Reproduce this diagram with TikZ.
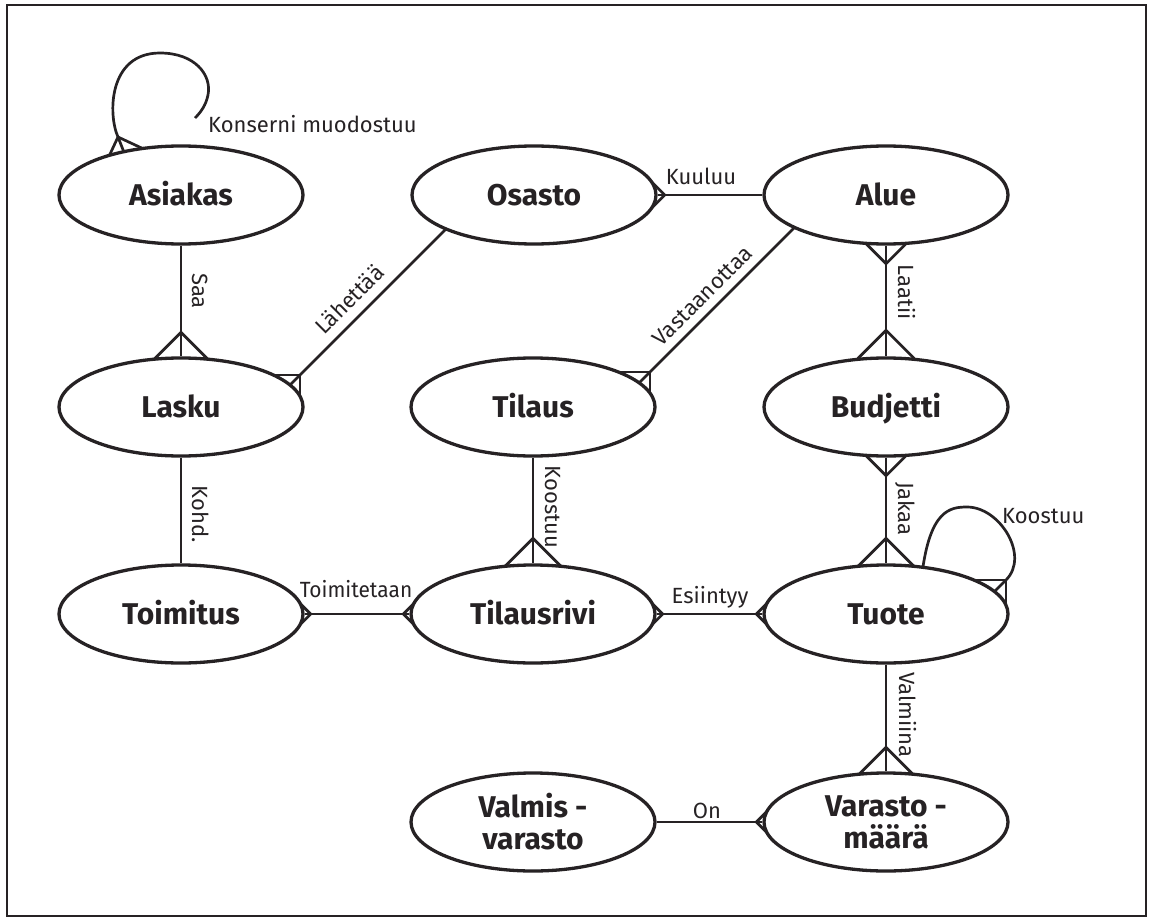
\documentclass[tikz,border=0pt]{standalone}
\usepackage{fontspec}
\setmainfont{Fira Sans}
\usetikzlibrary{shapes.geometric,calc}
\definecolor{ink}{HTML}{262224}
\pgfdeclarelayer{bg}
\pgfsetlayers{bg,main}
\tikzset{
  entity/.style={ellipse, draw=ink, line width=3.3pt, fill=white, minimum width=244pt, minimum height=98pt, inner sep=0pt, text=ink, font=\fontsize{30}{32}\selectfont\bfseries, align=center},
  one/.style={text height=21pt, text depth=0pt},
  conn/.style={draw=ink, line width=2.7pt},
  lbl/.style={text=ink, font=\fontsize{22}{26}\selectfont, inner sep=0pt},
  vlbl/.style={lbl, rotate=-90, anchor=base},
  dlbl/.style={lbl, rotate=45, anchor=base},
  pics/crow/.style={code={\draw[conn] (0,0) -- (45:#1) (0,0) -- (-45:#1);}},
}
\begin{document}
\begin{tikzpicture}[x=1pt,y=-1pt]
\useasboundingbox (0,0) rectangle (1150,920);
\draw[draw=ink, line width=2pt] (7,5) rectangle (1146,916);

% entities
\node[entity,one] (Asiakas)    at (181,195) {Asiakas};
\node[entity,one] (Osasto)     at (534,195) {Osasto};
\node[entity,one] (Alue)       at (886,195) {Alue};
\node[entity,one] (Lasku)      at (181,407) {Lasku};
\node[entity,one] (Tilaus)     at (533,407) {Tilaus};
\node[entity,one] (Budjetti)   at (886,407) {Budjetti};
\node[entity,one] (Toimitus)   at (181,614) {Toimitus};
\node[entity,one] (Tilausrivi) at (533,614) {Tilausrivi};
\node[entity,one] (Tuote)      at (886,614) {Tuote};
\node[entity]     (Valmis)     at (533,822) {Valmis -\\varasto};
\node[entity]     (Varasto)    at (886,822) {Varasto -\\määrä};

% connectors
\begin{pgfonlayer}{bg}
\draw[conn] (Asiakas) -- (Lasku);
\draw[conn] (Lasku) -- (Toimitus);
\draw[conn] (Osasto) -- (Alue);
\draw[conn] (Alue) -- (Budjetti);
\draw[conn] (Budjetti) -- (Tuote);
\draw[conn] (Tilaus) -- (Tilausrivi);
\draw[conn] (Toimitus) -- (Tilausrivi);
\draw[conn] (Tilausrivi) -- (Tuote);
\draw[conn] (Tuote) -- (Varasto);
\draw[conn] (Valmis) -- (Varasto);
\draw[conn] ($(Osasto.center)+(-88,34)$) -- ($(Lasku.center)+(105,-18)$);
\draw[conn] ($(Alue.center)+(-90,31)$) -- ($(Tilaus.center)+(103,-21)$);
% self loops
\coordinate (aloopEnd) at (195,118);
\draw[conn] ($(Asiakas.center)+(-52,-30)$) -- ($(Asiakas.center)+(-63,-58)$)
  .. controls (108,115) and (108,53) .. (160,53)
  .. controls (195,53) and (212,75) .. (208,95)
  .. controls (206,105) and (201,112) .. (aloopEnd);
\draw[conn] ($(Tuote.center)+(36,-40)$)
  .. controls (930,510) and (950,507) .. (967,507)
  .. controls (1000,507) and (1030,556) .. ($(Tuote.center)+(120,-34)$)
  -- ($(Tuote.center)+(104,-18)$);
% crow's feet
\pic[rotate=-70]  at ($(Asiakas.center)+(-63,-58)$) {crow=40};
\pic[rotate=-90]  at ($(Lasku.north)+(0,-24)$) {crow=40};
\pic[rotate=-135] at ($(Lasku.center)+(119,-32)$) {crow=40};
\pic[rotate=180]  at ($(Osasto.east)+(7,0)$) {crow=20};
\pic[rotate=-135] at ($(Tilaus.center)+(117,-35)$) {crow=40};
\pic[rotate=90]   at ($(Alue.south)+(0,18)$) {crow=40};
\pic[rotate=-90]  at ($(Budjetti.north)+(0,-26)$) {crow=40};
\pic[rotate=90]   at ($(Budjetti.south)+(0,18)$) {crow=40};
\pic[rotate=-90]  at ($(Tuote.north)+(0,-25)$) {crow=40};
\pic[rotate=-90]  at ($(Tilausrivi.north)+(0,-25)$) {crow=40};
\pic[rotate=180]  at ($(Toimitus.east)+(6,0)$) {crow=20};
\pic[rotate=0]    at ($(Tilausrivi.west)+(-6,0)$) {crow=20};
\pic[rotate=180]  at ($(Tilausrivi.east)+(6,0)$) {crow=20};
\pic[rotate=0]    at ($(Tuote.west)+(-6,0)$) {crow=20};
\pic[rotate=-135] at ($(Tuote.center)+(120,-34)$) {crow=40};
\pic[rotate=-90]  at ($(Varasto.north)+(0,-24)$) {crow=40};
\pic[rotate=0]    at ($(Varasto.west)+(-6,0)$) {crow=20};
\end{pgfonlayer}

% relationship labels
\node[lbl, anchor=base west] (lKonserni) at (208,133) {Konserni muodostuu};
\node[vlbl] (lSaa) at (192,291) {Saa};
\node[dlbl] (lLahettaa) at (355,305) {Lähettää};
\node[lbl, anchor=base] (lKuuluu) at (701,185) {Kuuluu};
\node[dlbl] (lVast) at (708,301) {Vastaanottaa};
\node[vlbl] (lLaatii) at (898,292) {Laatii};
\node[vlbl] (lKohd) at (192,514) {Kohd.};
\node[vlbl] (lKoostuuA) at (545,507) {Koostuu};
\node[lbl, anchor=base] (lToim) at (356,597) {\scalebox{0.95}[1]{Toimitetaan}};
\node[lbl, anchor=base] (lEsi) at (710,603) {Esiintyy};
\node[vlbl] (lJakaa) at (898,509) {Jakaa};
\node[lbl, anchor=base west] (lKoostuuB) at (1002,523) {Koostuu};
\node[vlbl] (lValmiina) at (899,715) {Valmiina};
\node[lbl, anchor=base] (lOn) at (707,818) {On};
\end{tikzpicture}
\end{document}
